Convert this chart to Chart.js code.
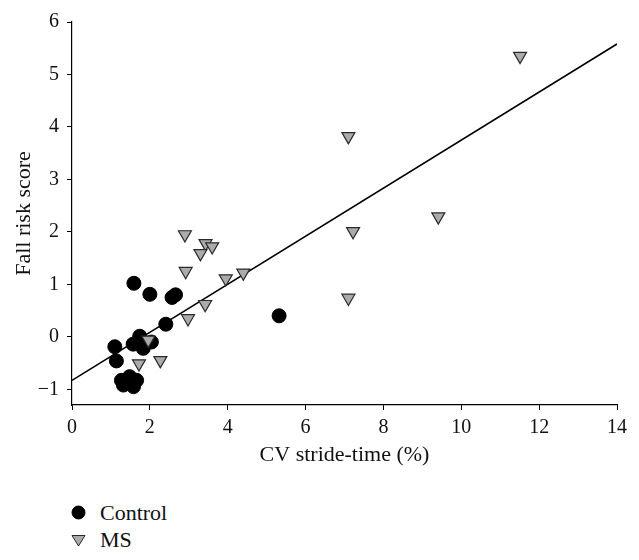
<!DOCTYPE html>
<html>
<head>
<meta charset="utf-8">
<title>Fall risk score vs CV stride-time</title>
<script src="https://cdn.jsdelivr.net/npm/chart.js@4.4.0/dist/chart.umd.min.js"></script>
<style>
    body { margin: 0; background: #fff; }
    #wrap { position: relative; width: 639px; height: 560px; }
    #chartBox { position: absolute; left: 0; top: 0; width: 639px; height: 480px; }
    #legend { position: absolute; left: 70px; top: 499px; margin: 0; padding: 0; list-style: none;
              font-family: 'Liberation Serif', serif; font-size: 22px; color: #111; }
    #legend li { display: flex; align-items: center; height: 27px; }
    #legend .mark { width: 17px; height: 17px; margin-right: 13px; }
</style>
</head>
<body>
<div id="wrap">
    <div id="chartBox"><canvas id="fallChart"></canvas></div>
    <ul id="legend"></ul>
</div>
<script>
// tick labels
const xTicks = [0, 2, 4, 6, 8, 10, 12, 14];
const yTicks = [-1, 0, 1, 2, 3, 4, 5, 6];

// Control group
const controlX = [1.59, 2.00, 2.57, 2.66, 2.41, 5.32, 1.74, 1.57, 1.83, 2.04, 1.10, 1.14, 1.27, 1.48, 1.66, 1.58, 1.32];
const controlY = [1.02, 0.81, 0.75, 0.80, 0.24, 0.40, 0.01, -0.14, -0.22, -0.10, -0.19, -0.46, -0.83, -0.76, -0.83, -0.95, -0.92];

// MS group
const msX = [2.90, 3.43, 3.60, 3.30, 2.92, 3.95, 4.40, 3.42, 2.98, 1.96, 1.72, 2.27, 7.10, 11.51, 9.41, 7.22, 7.10];
const msY = [1.95, 1.78, 1.72, 1.59, 1.25, 1.11, 1.22, 0.62, 0.35, -0.06, -0.51, -0.45, 3.82, 5.35, 2.29, 2.01, 0.74];

// regression line end points
const fitX = [0, 14];
const fitY = [-0.83, 5.58];

const toPoints = (xs, ys) => xs.map((x, i) => ({ x: x, y: ys[i] }));

const serif = 'Liberation Serif';

const ctx = document.getElementById('fallChart').getContext('2d');
const chart = new Chart(ctx, {
    type: 'scatter',
    data: {
        datasets: [
            {
                label: 'Fit',
                type: 'line',
                data: toPoints(fitX, fitY),
                borderColor: '#000',
                borderWidth: 1.6,
                pointRadius: 0,
                fill: false,
                order: 3
            },
            {
                label: 'Control',
                data: toPoints(controlX, controlY),
                pointStyle: 'circle',
                pointRadius: 7,
                backgroundColor: '#000',
                borderColor: '#000',
                borderWidth: 1,
                order: 2
            },
            {
                label: 'MS',
                data: toPoints(msX, msY),
                pointStyle: 'triangle',
                pointRotation: 180,
                pointRadius: 7.5,
                backgroundColor: '#ababab',
                borderColor: '#2a2a2a',
                borderWidth: 1.2,
                order: 1
            }
        ]
    },
    options: {
        responsive: true,
        maintainAspectRatio: false,
        animation: false,
        layout: { padding: { top: 22, right: 22, left: 0, bottom: 5 } },
        plugins: {
            legend: { display: false },
            tooltip: { enabled: false }
        },
        scales: {
            x: {
                type: 'linear',
                min: 0,
                max: 14,
                afterBuildTicks: (scale) => { scale.ticks = xTicks.map(v => ({ value: v })); },
                afterFit: (scale) => { scale.height = 70; },
                grid: { drawOnChartArea: false, drawTicks: true, tickLength: 5, tickColor: '#000' },
                border: { color: '#000', width: 1.2 },
                ticks: { color: '#111', padding: 6, font: { family: serif, size: 20 } },
                title: {
                    display: true,
                    text: 'CV stride-time (%)',
                    color: '#111',
                    padding: { top: 0, bottom: 7 },
                    font: { family: serif, size: 22 }
                }
            },
            y: {
                type: 'linear',
                min: -1.3,
                max: 6,
                afterBuildTicks: (scale) => { scale.ticks = yTicks.map(v => ({ value: v })); },
                afterFit: (scale) => { scale.width = 72; },
                grid: { drawOnChartArea: false, drawTicks: true, tickLength: 5, tickColor: '#000' },
                border: { color: '#000', width: 1.2 },
                ticks: {
                    color: '#111',
                    padding: 8,
                    font: { family: serif, size: 20 },
                    callback: (v) => v < 0 ? '\u2212' + Math.abs(v) : String(v)
                },
                title: {
                    display: true,
                    text: 'Fall risk score',
                    color: '#111',
                    padding: { top: 11, bottom: 0 },
                    font: { family: serif, size: 22 }
                }
            }
        }
    }
});

// html legend, stacked like the original figure
function buildLegend() {
    const list = document.getElementById('legend');
    list.innerHTML = '';
    chart.data.datasets.filter(ds => ds.label !== 'Fit').forEach(ds => {
        const li = document.createElement('li');
        const mark = document.createElementNS('http://www.w3.org/2000/svg', 'svg');
        mark.setAttribute('class', 'mark');
        mark.setAttribute('viewBox', '0 0 17 17');
        let shape;
        if (ds.pointStyle === 'circle') {
            shape = document.createElementNS('http://www.w3.org/2000/svg', 'circle');
            shape.setAttribute('cx', 8.5);
            shape.setAttribute('cy', 8.5);
            shape.setAttribute('r', 6.5);
        } else {
            shape = document.createElementNS('http://www.w3.org/2000/svg', 'polygon');
            shape.setAttribute('points', '2,4.5 15,4.5 8.5,15');
        }
        shape.setAttribute('fill', ds.backgroundColor);
        shape.setAttribute('stroke', ds.borderColor);
        shape.setAttribute('stroke-width', 1);
        mark.appendChild(shape);

        const text = document.createElement('span');
        text.innerText = ds.label;

        li.appendChild(mark);
        li.appendChild(text);
        list.appendChild(li);
    });
}

buildLegend();
</script>
</body>
</html>
